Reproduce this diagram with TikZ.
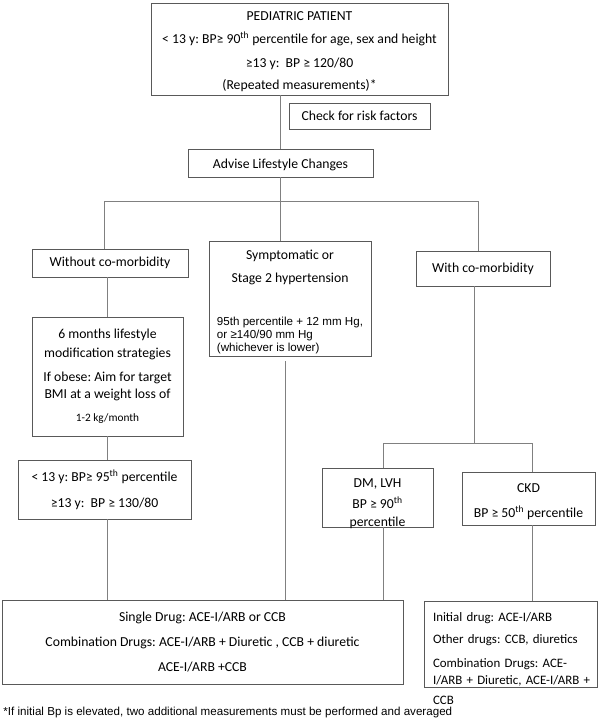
\documentclass[tikz,border=0pt]{standalone}
\usepackage{fontspec}
\setmainfont{Carlito}
\newfontfamily\arialfont{Liberation Sans}
\usetikzlibrary{positioning}
\frenchspacing

\begin{document}
\begin{tikzpicture}[x=1pt,y=-1pt,line width=0.9pt]
        \tikzstyle{box}=[rectangle,draw=black!65,inner sep=0pt,align=center,font=\fontsize{13.7}{18}\selectfont]
        \tikzstyle{link}=[draw=black!50]
        \tikzstyle{small text}=[inner sep=0pt,font=\arialfont\fontsize{11.6}{13}\selectfont]

        \useasboundingbox[fill=white] (0,0) rectangle (600,721);

        % Patient and first steps
        \node[box,minimum width=297,minimum height=92] (patient) at (299.5,49)
            {\rule{0pt}{14pt}PEDIATRIC PATIENT\\[5pt]< 13 y: BP≥ 90\textsuperscript{th} percentile for age, sex and height\\[6pt]≥13 y:\ \ BP ≥ 120/80\\[4pt](Repeated measurements)*};
        \node[box,minimum width=141,minimum height=26] (risk) at (359.5,116) {Check for risk factors};
        \node[box,minimum width=185,minimum height=28] (advise) at (280.5,163) {\rule{0pt}{13.6pt}Advise Lifestyle Changes};

        % Three branches
        \node[box,minimum width=156,minimum height=28] (without) at (110,263) {Without co-morbidity};
        \node[box,minimum width=162,minimum height=115] (sympt) at (290,298.5)
            {\rule{0pt}{18pt}Symptomatic or\\[5pt]Stage 2 hypertension\\[25pt]{\arialfont\fontsize{11.6}{13}\selectfont\begin{tabular}[t]{@{}l@{}}95th percentile + 12 mm Hg,\\ or ≥140/90 mm Hg\\ (whichever is lower)\end{tabular}}};
        \node[box,minimum width=134,minimum height=35] (with) at (483,268.5) {With co-morbidity};

        % Without co-morbidity
        \node[box,minimum width=151,minimum height=119] (six) at (107.5,376.5)
            {6 months lifestyle\\[1pt]modification strategies\\[6pt]If obese: Aim for target\\[-1pt]BMI at a weight loss of\\[5pt]{\fontsize{11.3}{13}\selectfont 1-2 kg/month}};
        \node[box,minimum width=173,minimum height=59] (crit) at (104.5,489.5)
            {< 13 y: BP≥ 95\textsuperscript{th} percentile\\[8pt]≥13 y:\ \ BP ≥ 130/80};

        % With co-morbidity
        \node[box,minimum width=111,minimum height=59] (dm) at (377.5,497.5) {\rule{0pt}{19.5pt}DM, LVH\\[3pt]BP ≥ 90\textsuperscript{th}\\\smash{percentile}};
        \node[box,minimum width=133,minimum height=53] (ckd) at (528.5,498.5) {\rule{0pt}{15pt}CKD\\[7pt]BP ≥ 50\textsuperscript{th} percentile};

        % Treatment
        \node[box,minimum width=401,minimum height=84] (drugs) at (202.5,642)
            {Single Drug: ACE-I/ARB or CCB\\[7pt]Combination Drugs: ACE-I/ARB + Diuretic , CCB + diuretic\\[7pt]ACE-I/ARB +CCB};
        \node[box,align=left,text width=160pt,inner xsep=6.5pt,text height=10pt,text depth=55pt,minimum width=173,minimum height=86,font=\fontsize{12.9}{18}\selectfont] (ckdrx) at (510.5,644)
            {\hspace*{2.5pt}Initial drug: ACE-I/ARB\\[4pt]\hspace*{2.5pt}Other drugs: CCB, diuretics\\[6pt]\hspace*{2.5pt}Combination Drugs: ACE-\\[-1.5pt]\hspace*{2.5pt}I/ARB + Diuretic, ACE-I/ARB +\\[2.5pt]\hspace*{2.5pt}CCB};

        \node[small text,anchor=west] (footnote) at (3,712) {*If initial Bp is elevated, two additional measurements must be performed and averaged};

        % Junctions
        \coordinate (busL) at (104,201);
        \coordinate (busR) at (478,201);
        \coordinate (sympt out) at (285.5,361);
        \coordinate (bus2) at (474,443);
        \coordinate (bus2L) at (383,443);
        \coordinate (bus2R) at (532,443);

        % Connect the boxes
        \draw[link] (patient.south -| advise.north) -- (advise.north);
        \draw[link] (advise.south) -- (advise.south |- sympt.north);
        \draw[link] (busL) -- (busR);
        \draw[link] (busL) -- (busL |- without.north);
        \draw[link] (busR) -- (busR |- with.north);
        \draw[link] (six.north |- without.south) -- (six.north);
        \draw[link] (six.south) -- (six.south |- crit.north);
        \draw[link] (six.south |- crit.south) -- (six.south |- drugs.north);
        \draw[link] (sympt out) -- (sympt out |- drugs.north);
        \draw[link] (bus2 |- with.south) -- (bus2);
        \draw[link] (bus2L) -- (bus2R);
        \draw[link] (bus2L) -- (bus2L |- dm.north);
        \draw[link] (bus2R) -- (bus2R |- ckd.north);
        \draw[link] (bus2L |- dm.south) -- (bus2L |- drugs.north);
        \draw[link] (bus2R |- ckd.south) -- (bus2R |- ckdrx.north);

\end{tikzpicture}
\end{document}
